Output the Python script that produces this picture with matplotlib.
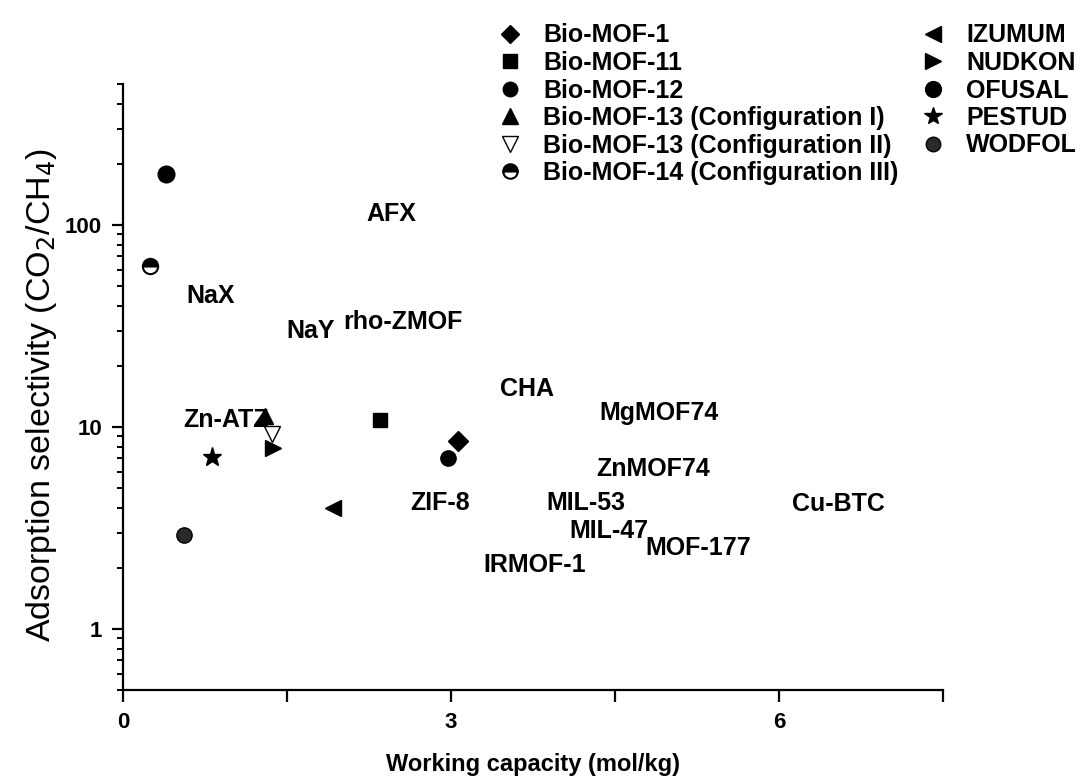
import matplotlib
matplotlib.use("Agg")
import matplotlib.pyplot as plt
import numpy as np
from matplotlib.ticker import FixedLocator, NullFormatter, LogLocator

plt.rcParams['font.family'] = ['Liberation Sans', 'DejaVu Sans']

# ---- data: materials shown with markers ----
series_names = ["Bio-MOF-1", "Bio-MOF-11", "Bio-MOF-12",
                "Bio-MOF-13 (Configuration I)", "Bio-MOF-13 (Configuration II)",
                "Bio-MOF-14 (Configuration III)",
                "IZUMUM", "NUDKON", "OFUSAL", "PESTUD", "WODFOL"]
series_x = [3.06, 2.35, 2.975, 1.30, 1.36, 0.25, 1.92, 1.375, 0.39, 0.81, 0.56]
series_y = [8.5, 10.9, 7.0, 11.3, 9.3, 63.0, 4.0, 7.85, 179.0, 7.1, 2.94]

# ---- data: materials shown as text labels ----
label_names = ["AFX", "NaX", "NaY", "rho-ZMOF", "CHA", "MgMOF74", "ZnMOF74",
               "ZIF-8", "MIL-53", "MIL-47", "MOF-177", "IRMOF-1", "Cu-BTC", "Zn-ATZ"]
label_x = [2.23, 0.58, 1.49, 2.01, 3.45, 4.36, 4.33, 2.63, 3.87, 4.08, 4.78, 3.30, 6.12, 0.55]
label_y = [113, 44.7, 29.8, 33.0, 15.5, 11.8, 6.2, 4.2, 4.2, 3.05, 2.53, 2.09, 4.15, 10.8]

x_major = [0, 3, 6]
x_minor = [1.5, 4.5, 7.5]
y_major = [1, 10, 100]
y_major_labels = ["1", "10", "100"]

# ---- styles ----
styles = {
    "Bio-MOF-1": dict(marker="D", ms=10, mfc="black", mec="black"),
    "Bio-MOF-11": dict(marker="s", ms=10, mfc="black", mec="black"),
    "Bio-MOF-12": dict(marker="o", ms=11, mfc="black", mec="black"),
    "Bio-MOF-13 (Configuration I)": dict(marker="^", ms=12, mfc="black", mec="black"),
    "Bio-MOF-13 (Configuration II)": dict(marker="v", ms=12, mfc="white", mec="black", mew=1.0),
    "Bio-MOF-14 (Configuration III)": dict(marker="o", ms=11, mfc="black", mec="black",
                                           fillstyle="top", markerfacecoloralt="white", mew=1.5),
    "IZUMUM": dict(marker="<", ms=12, mfc="black", mec="black"),
    "NUDKON": dict(marker=">", ms=12, mfc="black", mec="black"),
    "OFUSAL": dict(marker="o", ms=12, mfc="black", mec="black"),
    "PESTUD": dict(marker="*", ms=14, mfc="black", mec="black"),
    "WODFOL": dict(marker="o", ms=11, mfc="#2a2a2a", mec="black"),
}

fig = plt.figure(figsize=(10.91, 7.81), dpi=100)
ax = fig.add_axes([123/1091, 1-690/781, (943-123)/1091, (690-84)/781])

handles = []
for name, xv, yv in zip(series_names, series_x, series_y):
    h, = ax.plot([xv], [yv], linestyle="none", label=name, **styles[name])
    handles.append(h)

for name, xv, yv in zip(label_names, label_x, label_y):
    ax.text(xv, yv, name, ha="left", va="center", fontsize=18, fontweight="bold")

ax.set_yscale("log")
ax.set_xlim(0, 7.5)
ax.set_ylim(0.5, 500)

ax.xaxis.set_major_locator(FixedLocator(x_major))
ax.xaxis.set_minor_locator(FixedLocator(x_minor))
ax.xaxis.set_minor_formatter(NullFormatter())
ax.set_xticklabels([str(v) for v in x_major])

ax.yaxis.set_major_locator(FixedLocator(y_major))
ax.set_yticklabels(y_major_labels)
ax.yaxis.set_minor_locator(LogLocator(base=10, subs=np.arange(2, 10)))
ax.yaxis.set_minor_formatter(NullFormatter())

for s in ["top", "right"]:
    ax.spines[s].set_visible(False)
for s in ["left", "bottom"]:
    ax.spines[s].set_linewidth(1.6)

ax.tick_params(axis="x", which="both", direction="out", length=8.5, width=1.6, pad=7,
               labelsize=16)
ax.tick_params(axis="y", which="major", direction="out", length=8, width=1.6, pad=7,
               labelsize=16)
ax.tick_params(axis="y", which="minor", direction="out", length=4.5, width=1.4)
for lbl in ax.get_xticklabels() + ax.get_yticklabels():
    lbl.set_fontweight("bold")

ax.set_xlabel("Working capacity (mol/kg)", fontsize=17, fontweight="bold", labelpad=15)
ax.set_ylabel("Adsorption selectivity (CO$_2$/CH$_4$)", fontsize=24.5, labelpad=4)
ax.yaxis.label.set_y(0.487)

fig.legend(handles=handles, loc="upper left", bbox_to_anchor=(480/1091, 1-6/781),
           ncol=2, frameon=False, prop=dict(weight="bold", size=18),
           handletextpad=0.82, columnspacing=0.9, labelspacing=0.14, handlelength=1.0,
           borderpad=0.2, markerscale=0.95)

fig.savefig("out.png", dpi=100)
